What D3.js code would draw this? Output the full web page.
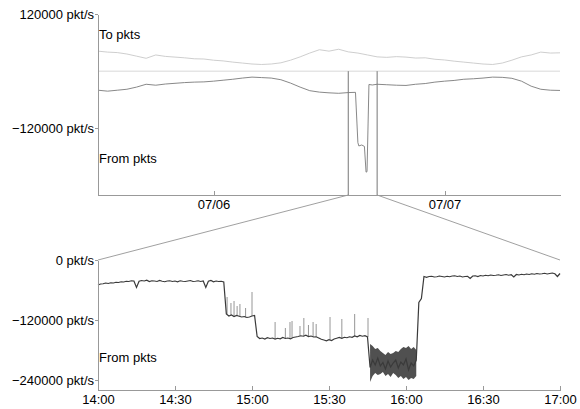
<!DOCTYPE html>
<html>
<head>
<meta charset="utf-8">
<script src="https://cdn.jsdelivr.net/npm/d3@7"></script>
<style>
  body { margin:0; background:#fff; }
  text { font-family: "Liberation Sans", Arial, sans-serif; font-size:13px; fill:#000; }
  .axis path, .axis line { stroke:#999; shape-rendering:crispEdges; }
  .axis text { font-family: "Liberation Sans", Arial, sans-serif; font-size:13px; fill:#000; }
</style>
</head>
<body>
<div id="chart"></div>
<script>
// ---- overview (07/05 12:00 -> 07/07 12:00), one value per hour ----
var overviewTicks = ["07/06", "07/07"];
var toPkts = [42000, 40000, 39000, 36000, 31500, 27000, 34000, 31000, 29500, 28000,
  26000, 25500, 23000, 21500, 19000, 17000, 15000, 14000, 15000, 17500,
  23000, 30000, 38000, 45000, 42000, 46000, 40500, 38000, 34000, 30000,
  29000, 30500, 29500, 27500, 28000, 25000, 23500, 21000, 19000, 17000,
  15000, 14000, 17000, 23000, 30000, 34000, 40000, 38000, 38500];
// hours 27 and 28 are covered by fromEvent below
var fromPkts = [-40000, -42000, -40000, -38000, -33500, -27500, -29500, -27000, -25500, -24000,
  -23000, -22500, -21000, -19000, -17000, -14500, -12500, -13500, -14500, -18000,
  -25000, -33500, -41000, -44000, -45500, -46500, -45000, null, null, -27500,
  -28500, -29500, -30000, -27500, -26000, -23000, -21000, -19500, -17000, -16000,
  -14500, -12500, -13000, -15000, -21000, -31500, -38000, -40000, -40500];
// [hours after 07/05 12:00, pkt/s]
var fromEvent = [[26.75, -44500], [27.0, -150000], [27.1, -157000], [27.4, -155000],
  [27.68, -158000], [27.85, -212000], [27.95, -211000], [28.15, -28000], [28.5, -29000]];

// ---- detail 07/06 14:00 -> 17:00, one value per minute ----
var detailTicks = ["14:00", "14:30", "15:00", "15:30", "16:00", "16:30", "17:00"];
var fromDetail = [
  -50000, -48000, -47500, -46000, -47000, -45500, -46000, -44500, -45000, -43500,
  -44000, -42500, -43000, -41500, -42000, -55000, -42500, -41000, -42000, -40500,
  -43000, -41500, -42000, -43000, -41000, -42500, -43500, -42000, -41500, -43000,
  -42000, -43500, -41500, -42500, -43000, -42000, -41000, -43000, -42500, -41500,
  -43000, -42000, -55000, -42500, -41000, -43500, -42000, -43000, -42500, -44000,
  -108000, -112000, -110000, -113000, -111000, -112500, -114000, -113000, -115000, -114000,
  -112000, -111000,
  -153000, -157000, -156000, -158000, -155500, -157000, -156000, -158000, -156500, -157500,
  -155000, -157000, -156000, -157500, -155000, -154000, -153000, -151500, -152500, -150500,
  -153000, -152000, -154000, -153500, -156000, -158500, -160000, -161500, -159500, -161000,
  -158000, -156500, -155000, -156500, -154500, -155500, -153500, -154500, -152000, -153500,
  -151000, -152500, -151500, -154000,
  -215000, -200000, -210000, -196000, -212000, -205000, -218000, -202000, -214000, -206000,
  -200000, -216000, -204000, -210000, -198000, -220000, -206000, -212000, -200000,
  -85000, -77000,
  -33000, -34500, -33000, -32500, -34000, -33500, -32000, -33000, -34000, -32500,
  -33500, -32000, -31500, -33000, -32000, -34000, -33000, -32500, -37000, -32000,
  -31500, -33000, -31000, -32000, -30500, -31500, -30000, -31000, -30500, -29500,
  -31000, -30000, -29000, -30500, -29500, -34000, -29000, -30000, -28500, -29500,
  -28000, -29000, -27500, -28500, -27000, -28000, -27500, -26500, -28000, -27000,
  -26000, -27500, -33000, -27000];
// short bursts: [minute after 14:00, pkt/s]
var detailSpikes = [[50.3, -74000], [51.8, -86000], [53, -82000], [54.2, -92000], [55.3, -88000],
  [57.5, -96000], [60, -64000], [69, -124000], [73, -136000], [74.8, -124000], [75.6, -122000],
  [78.7, -132000], [80.2, -116000], [82, -130000], [83.8, -124000], [85, -128000],
  [90.4, -114000], [95, -118000], [100, -108000], [105.2, -116000]];
// noisy stretch 15:46 - 16:04, per-minute envelope
var bandStart = 106;
var bandHigh = [-168000, -172000, -178000, -176000, -182000, -186000, -190000, -184000, -188000, -186000,
  -182000, -184000, -178000, -174000, -176000, -172000, -178000, -174000, -180000];
var bandLow = [-244000, -232000, -226000, -230000, -228000, -224000, -232000, -228000, -234000, -226000,
  -230000, -236000, -232000, -238000, -234000, -240000, -236000, -238000, -232000];

var width = 580, height = 409;
var left = 98, right = 560;

var svg = d3.select("#chart").append("svg")
  .attr("width", width)
  .attr("height", height);

var parseTime = d3.timeParse("%Y/%m/%d %H:%M");
var start = parseTime("2004/07/05 12:00"),
    end = parseTime("2004/07/07 12:00"),
    zoomFrom = parseTime("2004/07/06 14:00"),
    zoomTo = parseTime("2004/07/06 17:00");
function hoursAfter(h) { return new Date(+start + h * 3600e3); }
function minutesAfter(m) { return new Date(+zoomFrom + m * 60e3); }

var xTop = d3.scaleTime().domain([start, end]).range([left, right]);
var yTop = d3.scaleLinear().domain([-260000, 120000]).range([195, 14]);
var xBot = d3.scaleTime().domain([zoomFrom, zoomTo]).range([left, right]);
var yBot = d3.scaleLinear().domain([-260000, 0]).range([390, 260]);

function fmtPkt(d) { return (d < 0 ? "\u2212" : "") + Math.abs(d) + " pkt/s"; }

// ---- overview panel ----
var toData = toPkts.map(function(v, i) { return { t: hoursAfter(i), v: v }; });
var fromData = fromPkts.map(function(v, i) { return { t: hoursAfter(i), v: v }; })
  .filter(function(d) { return d.v !== null; })
  .concat(fromEvent.map(function(d) { return { t: hoursAfter(d[0]), v: d[1] }; }))
  .sort(function(a, b) { return a.t - b.t; });

var lineTop = d3.line()
  .x(function(d) { return xTop(d.t); })
  .y(function(d) { return yTop(d.v); });

svg.append("line")
  .attr("x1", left).attr("x2", right)
  .attr("y1", yTop(0)).attr("y2", yTop(0))
  .attr("stroke", "#d8d8d8");

svg.append("path").datum(toData)
  .attr("d", lineTop).attr("fill", "none")
  .attr("stroke", "#c8c8c8").attr("stroke-width", 0.9);

svg.append("path").datum(fromData)
  .attr("d", lineTop).attr("fill", "none")
  .attr("stroke", "#7a7a7a").attr("stroke-width", 0.9);

// zoom window + connectors
[zoomFrom, zoomTo].forEach(function(t, i) {
  svg.append("line")
    .attr("x1", xTop(t)).attr("x2", xTop(t))
    .attr("y1", yTop(0)).attr("y2", yTop.range()[0])
    .attr("stroke", "#777").attr("stroke-width", 1);
  svg.append("line")
    .attr("x1", xTop(t)).attr("y1", yTop.range()[0])
    .attr("x2", xBot.range()[i]).attr("y2", yBot.range()[1])
    .attr("stroke", "#888").attr("stroke-width", 0.8);
});

var parseDay = d3.timeParse("%Y/%m/%d");
var fmtDay = d3.timeFormat("%m/%d");
svg.append("g").attr("class", "axis")
  .attr("transform", "translate(0," + yTop.range()[0] + ")")
  .call(d3.axisBottom(xTop)
    .tickValues(overviewTicks.map(function(s) { return parseDay("2004/" + s); }))
    .tickFormat(fmtDay)
    .tickSizeInner(-4).tickSizeOuter(0).tickPadding(5));

svg.append("g").attr("class", "axis")
  .attr("transform", "translate(" + left + ",0)")
  .call(d3.axisLeft(yTop)
    .tickValues([120000, -120000])
    .tickFormat(fmtPkt)
    .tickSizeInner(3).tickSizeOuter(0).tickPadding(1));

svg.append("text").attr("x", 99).attr("y", 39).text("To pkts");
svg.append("text").attr("x", 99).attr("y", 163).text("From pkts");

// ---- detail panel ----
var detailData = fromDetail.map(function(v, i) { return { t: minutesAfter(i), v: v }; });
var bandData = bandHigh.map(function(v, i) {
  return { t: minutesAfter(bandStart + i), hi: v, lo: bandLow[i] };
});
var lineBot = d3.line()
  .x(function(d) { return xBot(d.t); })
  .y(function(d) { return yBot(d.v); });

svg.selectAll(".spike").data(detailSpikes).enter().append("line")
  .attr("class", "spike")
  .attr("x1", function(d) { return xBot(minutesAfter(d[0])); })
  .attr("x2", function(d) { return xBot(minutesAfter(d[0])); })
  .attr("y1", function(d) { return yBot(fromDetail[Math.round(d[0])]); })
  .attr("y2", function(d) { return yBot(d[1]); })
  .attr("stroke", "#8a8a8a").attr("stroke-width", 0.9);

svg.append("path").datum(bandData)
  .attr("d", d3.area()
    .x(function(d) { return xBot(d.t); })
    .y0(function(d) { return yBot(d.lo); })
    .y1(function(d) { return yBot(d.hi); }))
  .attr("fill", "#505050");

svg.append("path").datum(detailData)
  .attr("d", lineBot).attr("fill", "none")
  .attr("stroke", "#3a3a3a").attr("stroke-width", 1.2);

var parseClock = d3.timeParse("%Y/%m/%d %H:%M");
svg.append("g").attr("class", "axis")
  .attr("transform", "translate(0," + yBot.range()[0] + ")")
  .call(d3.axisBottom(xBot)
    .tickValues(detailTicks.map(function(s) { return parseClock("2004/07/06 " + s); }))
    .tickFormat(d3.timeFormat("%H:%M"))
    .tickSizeInner(-4).tickSizeOuter(0).tickPadding(5));

svg.append("g").attr("class", "axis")
  .attr("transform", "translate(" + left + ",0)")
  .call(d3.axisLeft(yBot)
    .tickValues([0, -120000, -240000])
    .tickFormat(fmtPkt)
    .tickSizeInner(3).tickSizeOuter(0).tickPadding(1));

svg.append("text").attr("x", 99).attr("y", 362).text("From pkts");
</script>
</body>
</html>
